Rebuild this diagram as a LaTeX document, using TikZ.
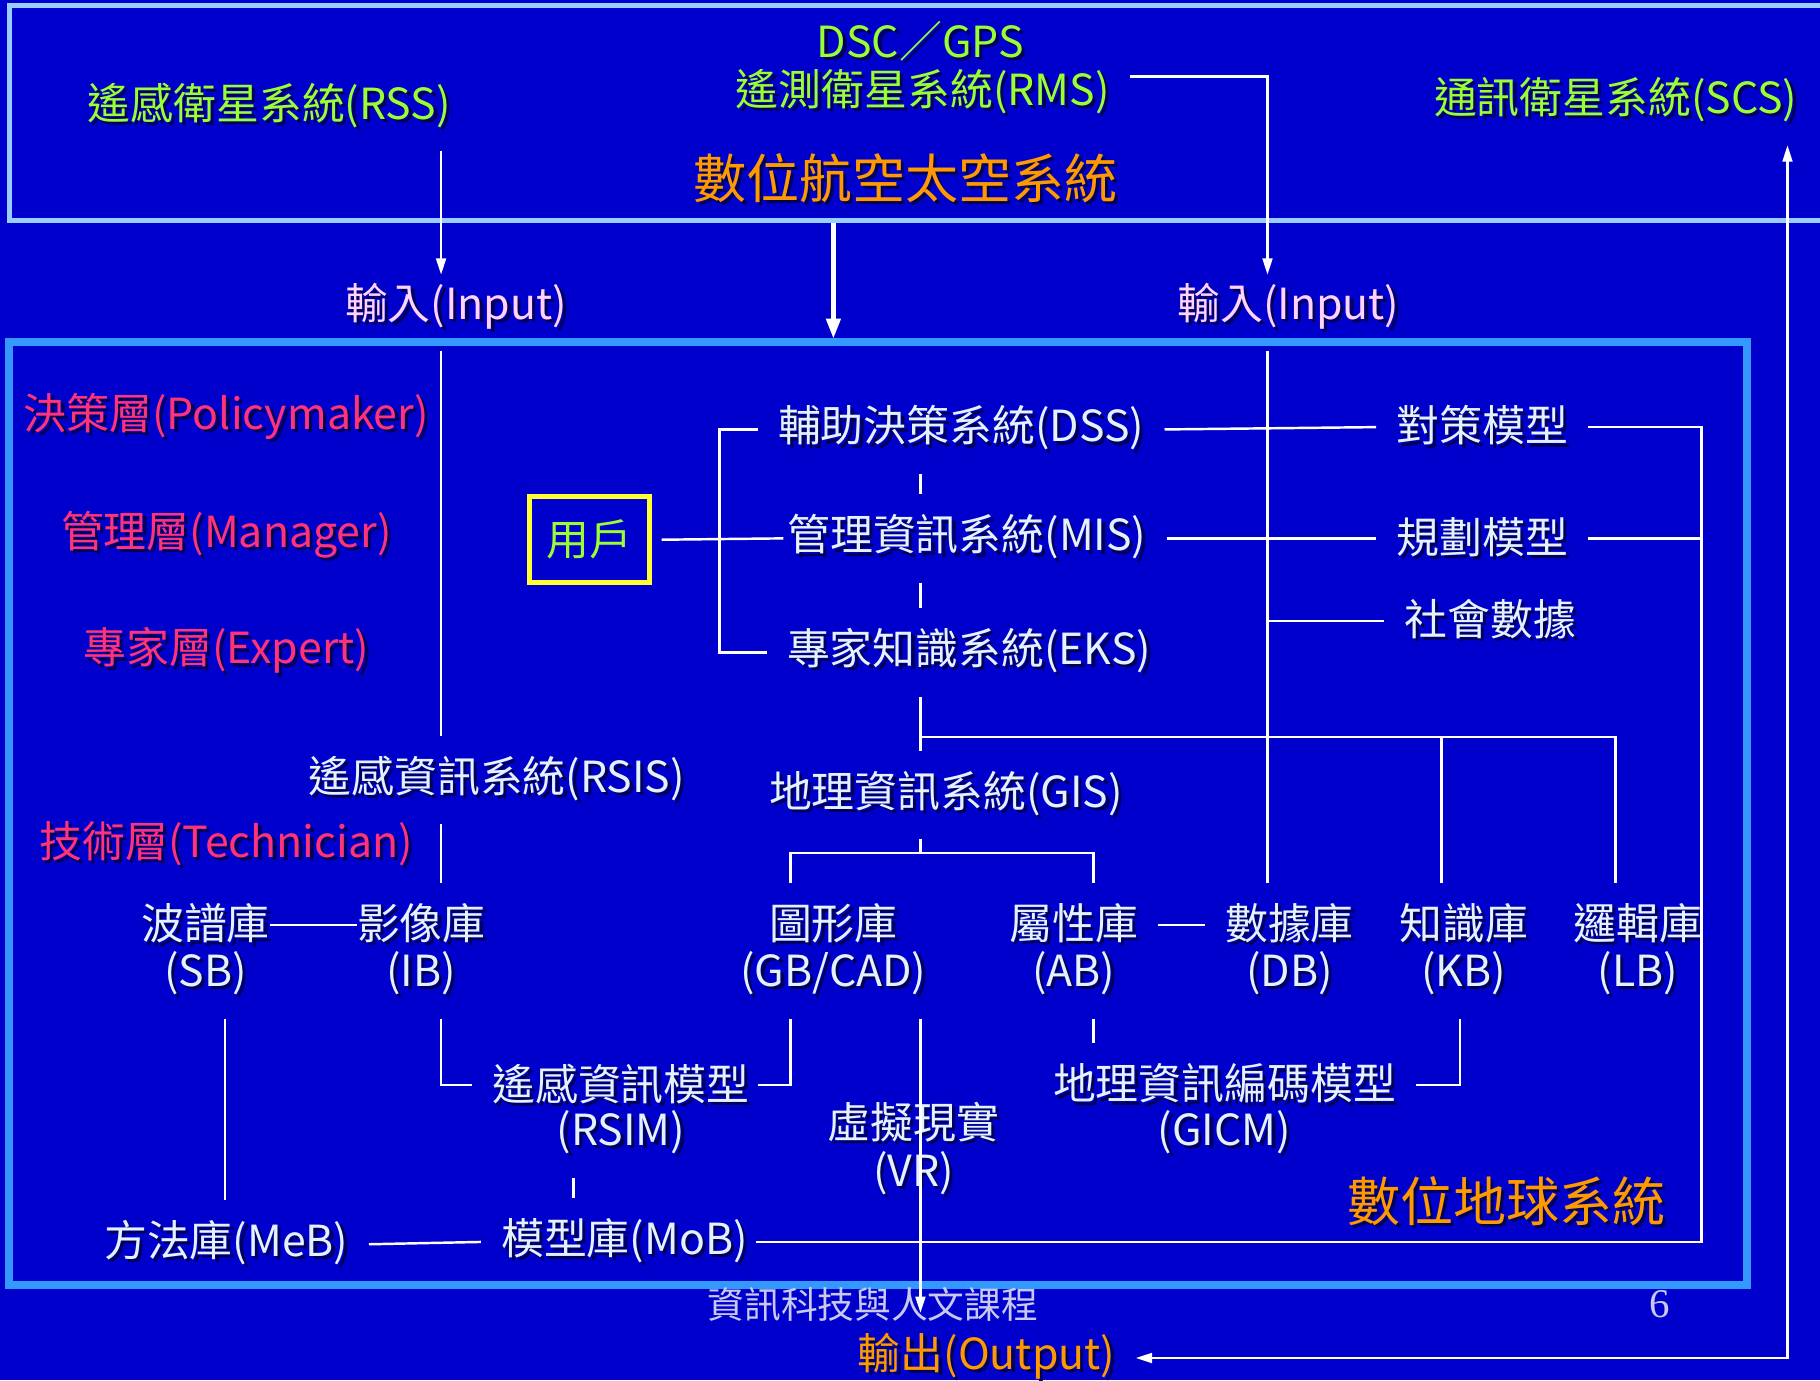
\documentclass[tikz,border=0pt]{standalone}
\usepackage{fontspec}
\setmainfont{Noto Sans CJK TC}
\newfontfamily\pagefont{Liberation Serif}
\usetikzlibrary{arrows.meta}
\definecolor{bgblue}{RGB}{0,0,204}
\definecolor{skyframe}{RGB}{153,204,255}
\definecolor{earthframe}{RGB}{51,153,255}
\definecolor{satgreen}{RGB}{153,255,51}
\definecolor{titleorange}{RGB}{255,153,0}
\definecolor{layerpink}{RGB}{255,51,119}
\definecolor{inpink}{RGB}{255,210,255}
\definecolor{boxwhite}{RGB}{228,242,255}
\definecolor{footgray}{RGB}{200,200,240}
\definecolor{useryellow}{RGB}{255,255,51}
\definecolor{shadowblue}{RGB}{0,0,90}
% text with a dark drop shadow
\newcommand{\shtext}[1]{\leavevmode\rlap{\kern0.8pt\raisebox{-0.8pt}{\textcolor{shadowblue}{#1}}}#1}
\begin{document}
\begin{tikzpicture}[x=0.01cm,y=-0.01cm,inner sep=2pt,outer sep=3pt,
txtnode/.style={text=boxwhite,font=\fontsize{10.5pt}{12pt}\selectfont},
satlabel/.style={txtnode,text=satgreen},
layerlabel/.style={txtnode,text=layerpink},
inlabel/.style={txtnode,text=inpink},
titlelabel/.style={text=titleorange,font=\fontsize{13pt}{15pt}\selectfont},
footlabel/.style={text=footgray,font=\fontsize{9pt}{11pt}\selectfont},
userbox/.style={draw=useryellow,line width=1.2pt,minimum width=1.03cm,minimum height=0.74cm,text=satgreen,font=\fontsize{10.5pt}{12pt}\selectfont},
wire/.style={draw=white,line width=0.6pt},
tight/.style={shorten <=-5pt,shorten >=-5pt},
arr/.style={wire,-{Triangle[length=4pt,width=2.4pt]}},
dblarr/.style={wire,{Triangle[length=4pt,width=2.4pt]}-{Triangle[length=4pt,width=2.4pt]}},
bigarr/.style={draw=white,line width=1.2pt,-{Triangle[length=5pt,width=3.4pt]}}]
\fill[bgblue] (0,0) rectangle (1568,1189);
\useasboundingbox (0,0) rectangle (1568,1189);

% frames
\draw[skyframe,line width=1.2pt] (8,5) rectangle (1620,190);
\draw[earthframe,line width=2pt] (8,295) rectangle (1505,1107);

% bus lines
\coordinate (leftbus) at (380,0);
\coordinate (rightbus) at (1092,0);
\coordinate (midbus) at (793,0);
\coordinate (userbus) at (620,0);
\coordinate (modelbus) at (1466,0);
\coordinate (scsbus) at (1540,0);
\coordinate (sbbus) at (194,0);
\coordinate (rsimbus) at (494,0);
\coordinate (gbbus) at (681,0);
\coordinate (abbus) at (942,0);
\coordinate (kbbus) at (1242,0);
\coordinate (lbbus) at (1392,0);
\coordinate (gicmbus) at (1258,0);
\coordinate (frametop) at (0,302);
\coordinate (libbus) at (0,635);
\coordinate (gisfork) at (793,735);
\coordinate (downlink) at (718,192);
\coordinate (earthtop) at (718,292);

% space segment
\node[satlabel] (DSC) at (793,37) {\shtext{DSC／GPS}};
\node[satlabel] (RMS) at (795,80) {\shtext{遙測衛星系統(RMS)}};
\node[satlabel] (RSS) at (232,92) {\shtext{遙感衛星系統(RSS)}};
\node[satlabel] (SCS) at (1392,87) {\shtext{通訊衛星系統(SCS)}};
\node[titlelabel] (space) at (780,155) {\shtext{數位航空太空系統}};
\node[inlabel] (inL) at (393,265) {\shtext{輸入(Input)}};
\node[inlabel] (inR) at (1110,265) {\shtext{輸入(Input)}};

% layers
\node[layerlabel] (policy) at (195,360) {\shtext{決策層(Policymaker)}};
\node[layerlabel] (manager) at (195,462) {\shtext{管理層(Manager)}};
\node[layerlabel] (expert) at (195,562) {\shtext{專家層(Expert)}};
\node[layerlabel] (tech) at (195,728) {\shtext{技術層(Technician)}};

% systems
\node[userbox] (user) at (508,465) {用戶};
\node[txtnode] (DSS) at (828,370) {\shtext{輔助決策系統(DSS)}};
\node[txtnode] (MIS) at (833,464) {\shtext{管理資訊系統(MIS)}};
\node[txtnode] (EKS) at (835,562) {\shtext{專家知識系統(EKS)}};
\node[txtnode] (RSIS) at (428,672) {\shtext{遙感資訊系統(RSIS)}};
\node[txtnode] (GIS) at (815,685) {\shtext{地理資訊系統(GIS)}};
\node[txtnode] (strat) at (1277,368) {\shtext{對策模型}};
\node[txtnode] (plan) at (1277,464) {\shtext{規劃模型}};
\node[txtnode] (social) at (1284,535) {\shtext{社會數據}};

% libraries
\node[txtnode] (SB) at (177,797) {\shtext{波譜庫}};
\node[txtnode] (SBx) at (177,840) {\shtext{(SB)}};
\node[txtnode] (IB) at (363,797) {\shtext{影像庫}};
\node[txtnode] (IBx) at (363,840) {\shtext{(IB)}};
\node[txtnode] (GB) at (718,797) {\shtext{圖形庫}};
\node[txtnode] (GBx) at (718,840) {\shtext{(GB/CAD)}};
\node[txtnode] (AB) at (925,797) {\shtext{屬性庫}};
\node[txtnode] (ABx) at (925,840) {\shtext{(AB)}};
\node[txtnode] (DB) at (1111,797) {\shtext{數據庫}};
\node[txtnode] (DBx) at (1111,840) {\shtext{(DB)}};
\node[txtnode] (KB) at (1261,797) {\shtext{知識庫}};
\node[txtnode] (KBx) at (1261,840) {\shtext{(KB)}};
\node[txtnode] (LB) at (1411,797) {\shtext{邏輯庫}};
\node[txtnode] (LBx) at (1411,840) {\shtext{(LB)}};

% models
\node[txtnode] (RSIM) at (535,935) {\shtext{遙感資訊模型}};
\node[txtnode] (RSIMx) at (535,977) {\shtext{(RSIM)}};
\node[txtnode] (GICM) at (1055,935) {\shtext{地理資訊編碼模型}};
\node[txtnode] (GICMx) at (1055,977) {\shtext{(GICM)}};
\node[txtnode] (VR) at (787,968) {\shtext{虛擬現實}};
\node[txtnode] (VRx) at (787,1012) {\shtext{(VR)}};
\node[txtnode] (MeB) at (195,1072) {\shtext{方法庫(MeB)}};
\node[txtnode] (MoB) at (538,1070) {\shtext{模型庫(MoB)}};
\node[titlelabel] (earth) at (1298,1036) {\shtext{數位地球系統}};
\node[footlabel] (course) at (752,1124) {資訊科技與人文課程};
\node[footlabel,font=\pagefont\fontsize{10pt}{12pt}\selectfont] (page) at (1430,1124) {6};
\node[txtnode,text=titleorange] (out) at (850,1170) {\shtext{輸出(Output)}};

% inputs and outputs
\draw[arr,shorten >=-3pt] (RSS.south -| leftbus) -- (inL.north -| leftbus);
\draw[bigarr] (downlink) -- (earthtop);
\draw[arr,shorten >=-3pt] ([yshift=0.14cm]RMS.east) -| (inR.north -| rightbus);
\draw[dblarr] (out.east) -| (SCS.south -| scsbus);
\draw[wire] (frametop -| leftbus) -- (RSIS.north -| leftbus);
\draw[wire] (RSIS.south -| leftbus) -- (IB.north -| leftbus);
\draw[wire] (frametop -| rightbus) -- (DB.north -| rightbus);

% user and systems
\draw[wire,shorten >=-4pt] (user.east) -- (MIS.west);
\draw[wire] (DSS.west) -| (userbus |- EKS.west) -- (EKS.west);
\draw[wire] (DSS.south -| midbus) -- (MIS.north -| midbus);
\draw[wire] (MIS.south -| midbus) -- (EKS.north -| midbus);
\draw[wire] (EKS.south -| midbus) -- (GIS.north -| midbus);
\draw[wire] (GIS.south -| midbus) -- (gisfork);
\draw[wire] (GB.north -| gbbus) |- (gisfork) -| (AB.north -| abbus);
\draw[wire] (midbus |- libbus) -| (LB.north -| lbbus);
\draw[wire] (KB.north -| kbbus) -- (kbbus |- libbus);
\draw[wire] (DSS.east) -- (strat.west);
\draw[wire] (MIS.east) -- (plan.west);
\draw[wire] (social.west) -- (social.west -| rightbus);
\draw[wire,shorten >=-3pt] (strat.east) -| (modelbus |- MoB.east) -- (MoB.east);
\draw[wire] (plan.east) -- (plan.east -| modelbus);

% libraries and models
\draw[wire,tight] (SB.east) -- (IB.west);
\draw[wire] (AB.east) -- (DB.west);
\draw[wire] (SBx.south -| sbbus) -- (MeB.north -| sbbus);
\draw[wire] (IBx.south -| leftbus) |- (RSIM.west);
\draw[wire,shorten >=-3pt] (GBx.south -| gbbus) |- (RSIM.east);
\draw[wire] (RSIMx.south -| rsimbus) -- (MoB.north -| rsimbus);
\draw[wire] (ABx.south -| abbus) -- (GICM.north -| abbus);
\draw[wire] (KBx.south -| gicmbus) |- (GICM.east);
\draw[wire] (MeB.east) -- (MoB.west);
\draw[arr] (GBx.south -| midbus) -- (out.north -| midbus);

\end{tikzpicture}
\end{document}
